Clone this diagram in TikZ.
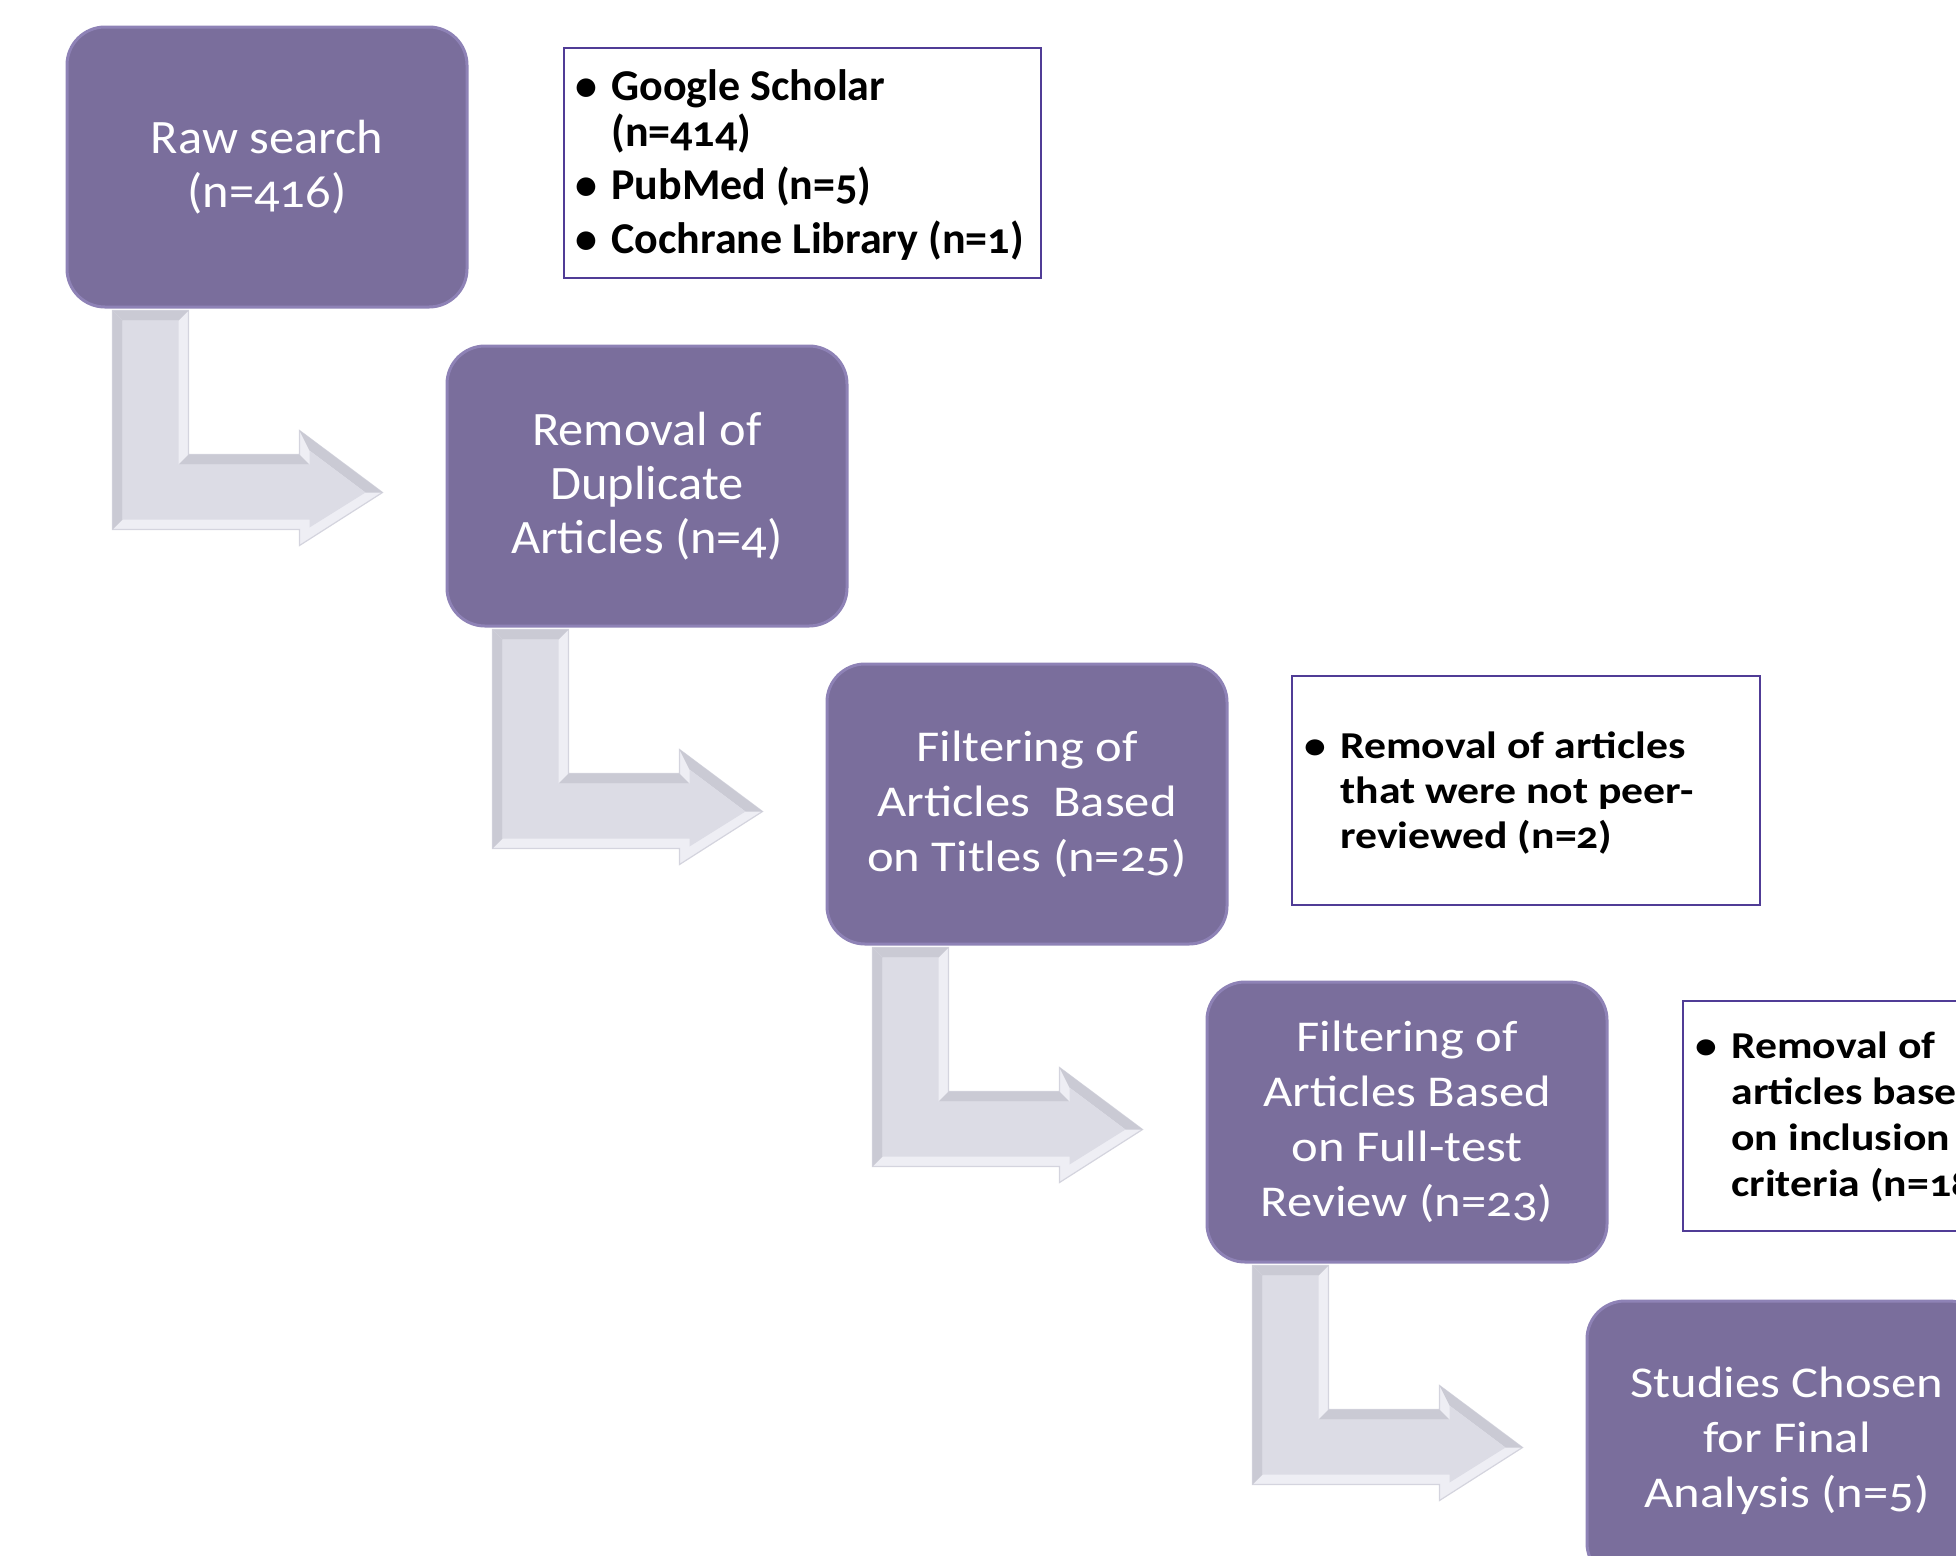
\documentclass[tikz,border=0pt]{standalone}
\usepackage{fontspec}
\setmainfont{Carlito}[Numbers=OldStyle]
\newfontfamily\widefont{Carlito}[Numbers=OldStyle,FakeStretch=1.15]
\newfontfamily\midfont{Carlito}[Numbers=OldStyle,FakeStretch=1.05]
\usetikzlibrary{calc}
\definecolor{boxpurple}{RGB}{122,110,156}
\definecolor{boxedge}{RGB}{142,130,182}
\definecolor{infoedge}{RGB}{80,60,150}
\definecolor{bevlight}{RGB}{238,238,244}
\definecolor{bevdark}{RGB}{202,202,212}
\definecolor{bevmid}{RGB}{220,220,229}
\definecolor{bevline}{RGB}{212,212,222}
\tikzset{
  stage/.style={draw=boxedge, line width=1.5pt, fill=boxpurple, rounded corners=19pt,
    minimum width=200pt, minimum height=140pt, text=white, align=center,
    font=\midfont\fontsize{24}{27}\selectfont, inner sep=0pt},
  widestage/.style={stage, font=\widefont\fontsize{22}{27.5}\selectfont},
  info/.style={draw=infoedge, line width=1pt, fill=white, anchor=north west, inner sep=0pt},
  infotext/.style={anchor=base west, inner sep=0pt, align=left},
  bent/.pic={
    \path[fill=bevlight, draw=bevline, line width=0.6pt]
      (47,2) -- (123,2) -- (123,146) -- (234,146) -- (234,122) -- (317,184)
      -- (234,237) -- (234,221) -- (47,221) -- cycle;
    \path[fill=bevdark] (47,2) -- (57,12) -- (57,211) -- (47,221) -- cycle;
    \path[fill=bevdark] (47,2) -- (123,2) -- (113,12) -- (57,12) -- cycle;
    \path[fill=bevdark] (113,156) -- (123,146) -- (234,146) -- (244,156) -- cycle;
    \path[fill=bevdark] (234,122) -- (317,184) -- (300,184) -- (244,142) -- cycle;
    \path[fill=bevmid]
      (57,12) -- (113,12) -- (113,156) -- (244,156) -- (244,142) -- (300,184)
      -- (244,219) -- (244,211) -- (57,211) -- cycle;
  }
}
\newcommand{\bul}{\makebox[14pt][l]{\hspace*{-4pt}\textbullet}}
\begin{document}
\begin{tikzpicture}[x=0.5pt,y=-0.5pt]
\path[use as bounding box] (0,0) rectangle (1956,1555);
\clip (0,0) rectangle (1956,1555);

% stages
\node[stage] (b1) at (267,167) {Raw search\\(n=416)};
\node[stage] (b2) at (647,486) {Removal of\\Duplicate\\Articles (n=4)};
\node[widestage] (b3) at (1027,804) {Filtering of\\Articles\ \ Based\\on Titles (n=25)};
\node[widestage] (b4) at (1407,1122) {Filtering of\\Articles Based\\on Full-test\\Review (n=23)};
\node[widestage] (b5) at (1787,1441) {Studies Chosen\\for Final\\Analysis (n=5)};

% bent arrows between stages
\pic at (b1.south west) {bent};
\pic at (b2.south west) {bent};
\pic at (b3.south west) {bent};
\pic at (b4.south west) {bent};

% info boxes
\node[info, minimum width=238.5pt, minimum height=115pt] (i1) at (563,47) {};
\node[infotext, font=\bfseries\fontsize{22}{23}\selectfont] (t1) at (583,100)
  {\begin{tabular}[t]{@{}l@{}l@{}}
   \bul & Google Scholar\\
        & (n=414)\\[3.5pt]
   \bul & PubMed (n=5)\\[3.5pt]
   \bul & Cochrane Library (n=1)
   \end{tabular}};

\node[info, minimum width=234pt, minimum height=114.5pt] (i2) at (1291,675) {};
\node[infotext, font=\widefont\bfseries\fontsize{19}{22.5}\selectfont] (t2) at (1312,758)
  {\begin{tabular}[t]{@{}l@{}l@{}}
   \bul & Removal of articles\\
        & that were not peer-\\
        & reviewed (n=2)
   \end{tabular}};

\node[info, minimum width=200pt, minimum height=115pt] (i3) at (1682,1000) {};
\node[infotext, font=\widefont\bfseries\fontsize{19}{23}\selectfont] (t3) at (1703,1058)
  {\begin{tabular}[t]{@{}l@{}l@{}}
   \bul & Removal of\\
        & articles based\\
        & on inclusion\\
        & criteria (n=18)
   \end{tabular}};
\end{tikzpicture}
\end{document}
